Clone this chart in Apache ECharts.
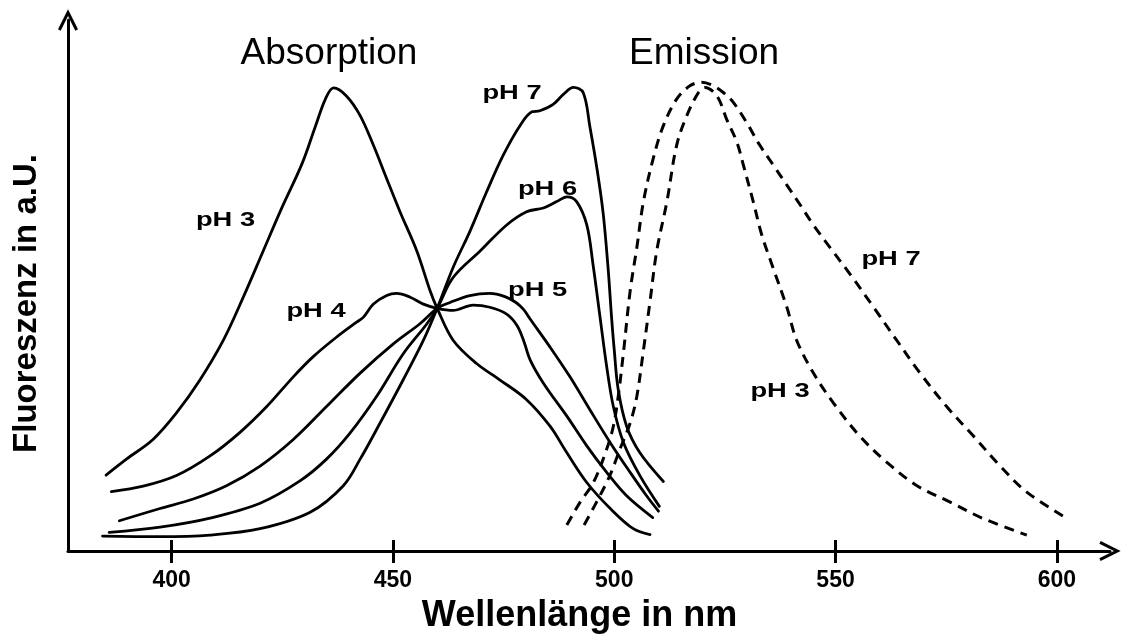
<!DOCTYPE html>
<html>
<head>
<meta charset="utf-8">
<script src="https://cdn.jsdelivr.net/npm/echarts@6/dist/echarts.min.js"></script>
<style>
html,body{margin:0;padding:0;background:#fff;}
#chart{width:1122px;height:639px;}
</style>
</head>
<body>
<div id="chart"></div>
<script>
// ---------- data (wavelength in nm, fluorescence in a.U.) ----------
const wavelengthTicks = [400, 450, 500, 550, 600];

const absPH3 = [[385.2,14.3],[389.8,17.3],[395.8,21.0],[401.1,26.0],[406.4,32.2],[411.7,39.7],[416.2,47.8],[420.7,56.5],[425.0,64.8],[429.5,73.0],[432.5,80.0],[434.8,85.2],[436.6,87.2],[439.5,85.7],[442.6,82.0],[445.6,76.4],[448.6,70.1],[451.6,63.9],[455.4,56.5],[458.4,49.0],[460.0,45.7],[463.6,39.7],[468.9,35.3],[474.2,32.2],[480.2,28.5],[485.5,23.5],[489.3,18.5],[493.8,12.9],[499.1,8.0],[504.3,4.2],[508.1,3.1]];

const absPH4 = [[386.4,11.2],[393.6,12.2],[401.1,14.2],[408.7,17.9],[415.4,22.3],[421.5,27.2],[427.5,32.8],[432.0,36.6],[437.3,40.3],[441.8,43.1],[443.3,44.0],[445.6,46.5],[448.6,48.1],[450.8,48.5],[453.9,47.8],[456.9,46.5],[460.0,45.7],[463.6,45.3],[468.1,46.3],[471.9,45.9],[475.7,44.6],[478.0,42.5],[479.5,39.7],[481.0,36.0],[484.0,31.6],[489.3,25.4],[493.8,19.8],[498.3,14.8],[502.8,10.4],[508.7,6.3]];

const absPH5 = [[388.2,5.7],[397.4,8.0],[404.9,9.8],[412.4,12.3],[420.0,16.0],[427.5,21.0],[435.0,27.2],[442.6,33.5],[450.1,39.0],[456.1,42.8],[460.0,45.7],[462.9,46.8],[467.4,48.1],[471.9,48.5],[475.3,47.9],[477.8,46.8],[479.5,45.5],[481.0,43.7],[485.5,38.4],[490.0,32.8],[494.5,26.6],[499.1,20.4],[503.6,14.8],[507.3,10.4],[510.0,7.5]];

const absPH6 = [[385.9,3.5],[397.4,4.5],[408.7,6.2],[420.0,9.0],[429.0,13.2],[435.0,17.3],[440.3,22.2],[446.3,29.1],[452.3,37.1],[457.6,42.7],[460.0,45.7],[463.6,51.5],[469.7,56.5],[475.7,61.4],[480.2,63.9],[484.0,64.6],[487.0,65.8],[489.3,66.7],[491.5,65.8],[493.8,61.4],[495.2,54.0],[496.8,44.0],[498.3,34.7],[499.8,27.2],[502.1,20.4],[505.8,14.2],[510.2,8.4]];

const absPH7 = [[384.4,2.8],[397.4,2.7],[408.7,3.0],[420.0,4.2],[431.3,7.3],[438.8,12.3],[442.6,17.3],[447.1,24.1],[452.3,32.2],[456.9,39.7],[460.0,45.7],[463.6,53.4],[467.4,60.2],[471.2,67.7],[474.9,74.5],[478.7,80.1],[481.4,82.7],[483.2,82.9],[486.2,84.1],[488.5,86.0],[490.8,87.3],[493.0,86.3],[494.5,79.9],[496.1,72.0],[497.5,63.6],[498.6,53.4],[499.4,44.0],[500.0,37.9],[500.9,30.4],[502.8,23.5],[505.8,18.5],[511.1,13.1]];

const emPH7 = [[489.3,4.9],[492.3,9.2],[495.3,12.9],[498.3,19.2],[499.8,23.5],[500.9,29.1],[502.1,37.5],[503.6,49.0],[505.1,57.1],[506.6,65.8],[508.8,73.9],[511.1,80.1],[514.1,85.1],[517.1,87.6],[519.8,88.3],[522.4,87.6],[524.7,86.3],[526.9,84.5],[529.9,80.7],[532.9,76.4],[536.0,72.6],[539.0,68.9],[542.0,65.2],[545.0,61.4],[548.8,57.1],[553.3,52.1],[558.6,45.9],[563.8,39.7],[569.1,33.5],[575.1,27.2],[581.2,21.6],[587.2,16.0],[593.2,11.1],[602.3,6.1]];

const emPH3 = [[493.2,4.9],[496.0,9.2],[499.0,14.2],[501.3,19.2],[503.6,24.1],[505.1,29.1],[506.6,37.8],[508.1,47.1],[509.6,56.5],[511.9,65.8],[514.1,76.4],[516.4,82.0],[519.0,86.3],[520.5,87.3],[523.2,85.7],[525.4,81.3],[527.7,77.0],[529.2,72.6],[531.4,65.8],[533.3,59.6],[535.6,54.0],[539.0,45.9],[541.2,39.7],[545.0,33.5],[549.5,27.9],[555.5,21.6],[561.6,16.7],[568.4,12.3],[575.9,9.2],[583.4,6.1],[593.2,3.0]];

const headingTexts = ['Absorption', 'Emission'];
const curveLabelTexts = ['pH 3', 'pH 4', 'pH 5', 'pH 6', 'pH 7', 'pH 7', 'pH 3'];
const xAxisTitle = 'Wellenlänge in nm';
const yAxisTitle = 'Fluoreszenz in a.U.';

// ---------- layout ----------
const FONT = "'Liberation Sans', Arial, Helvetica, sans-serif";
const headingPos = [[329, 54], [704, 54]];
const labelPos = [[225.5, 220.5], [316, 311], [537.7, 290.5], [547.5, 189], [512, 93], [891, 259], [780, 391.7]];
const arrowPath = 'path://M10,0 L20,20 L17.3,21.3 L10,6.7 L2.7,21.3 L0,20 Z';

function solid(name, data) {
  return {
    type: 'line', name: name, data: data, symbol: 'none', showSymbol: false,
    smooth: 0.35, silent: true,
    lineStyle: { color: '#000', width: 2.8, cap: 'round', join: 'round' }
  };
}
function dashed(name, data) {
  return {
    type: 'line', name: name, data: data, symbol: 'none', showSymbol: false,
    smooth: 0.35, silent: true,
    lineStyle: { color: '#000', width: 3, type: [10, 7] }
  };
}

const graphics = [];
headingTexts.forEach(function (t, i) {
  graphics.push({
    type: 'text', x: headingPos[i][0], y: headingPos[i][1], silent: true,
    style: { text: t, fontSize: 37, fontFamily: FONT, fontWeight: 'normal', fill: '#000',
             textAlign: 'center', textVerticalAlign: 'middle', align: 'center', verticalAlign: 'middle' }
  });
});
curveLabelTexts.forEach(function (t, i) {
  graphics.push({
    type: 'text', x: labelPos[i][0], y: labelPos[i][1], scaleX: 1.3, silent: true,
    style: { text: t, fontSize: 21, fontFamily: FONT, fontWeight: 'bold', fill: '#000',
             textAlign: 'center', textVerticalAlign: 'middle', align: 'center', verticalAlign: 'middle' }
  });
});

const chart = echarts.init(document.getElementById('chart'), null, { renderer: 'canvas' });
chart.setOption({
  animation: false,
  backgroundColor: '#fff',
  grid: { left: 68, right: 12, top: 20, bottom: 83, containLabel: false },
  xAxis: [
    {
      type: 'value', min: 376.6, max: 612, position: 'bottom',
      name: xAxisTitle, nameLocation: 'middle', nameGap: 47,
      nameTextStyle: { fontSize: 36, fontWeight: 'bold', fontFamily: FONT, color: '#000', padding: [0, 19, 0, 0] },
      axisLine: { show: true, onZero: false, symbol: ['none', arrowPath], symbolSize: [20, 21.3],
                  lineStyle: { color: '#000', width: 3 } },
      axisTick: { show: true, inside: false, length: 12, customValues: wavelengthTicks,
                  lineStyle: { color: '#000', width: 3 } },
      axisLabel: { show: true, customValues: wavelengthTicks, margin: 18, fontSize: 23,
                   fontWeight: 'bold', fontFamily: FONT, color: '#000' },
      splitLine: { show: false }
    },
    {
      type: 'value', min: 376.6, max: 612, position: 'bottom',
      axisLine: { show: false, onZero: false },
      axisTick: { show: true, inside: true, length: 11, customValues: wavelengthTicks,
                  lineStyle: { color: '#000', width: 3 } },
      axisLabel: { show: false },
      splitLine: { show: false }
    }
  ],
  yAxis: {
    type: 'value', min: 0, max: 100,
    name: yAxisTitle, nameLocation: 'middle', nameRotate: 90, nameGap: 25,
    nameTextStyle: { fontSize: 33, fontWeight: 'bold', fontFamily: FONT, color: '#000', padding: [0, 36, 0, 0] },
    axisLine: { show: true, onZero: false, symbol: ['none', arrowPath], symbolSize: [20, 21.3],
                lineStyle: { color: '#000', width: 3 } },
    axisTick: { show: false },
    axisLabel: { show: false },
    splitLine: { show: false }
  },
  series: [
    solid('Absorption pH 3', absPH3),
    solid('Absorption pH 4', absPH4),
    solid('Absorption pH 5', absPH5),
    solid('Absorption pH 6', absPH6),
    solid('Absorption pH 7', absPH7),
    dashed('Emission pH 7', emPH7),
    dashed('Emission pH 3', emPH3)
  ],
  graphic: graphics
});
</script>
</body>
</html>
